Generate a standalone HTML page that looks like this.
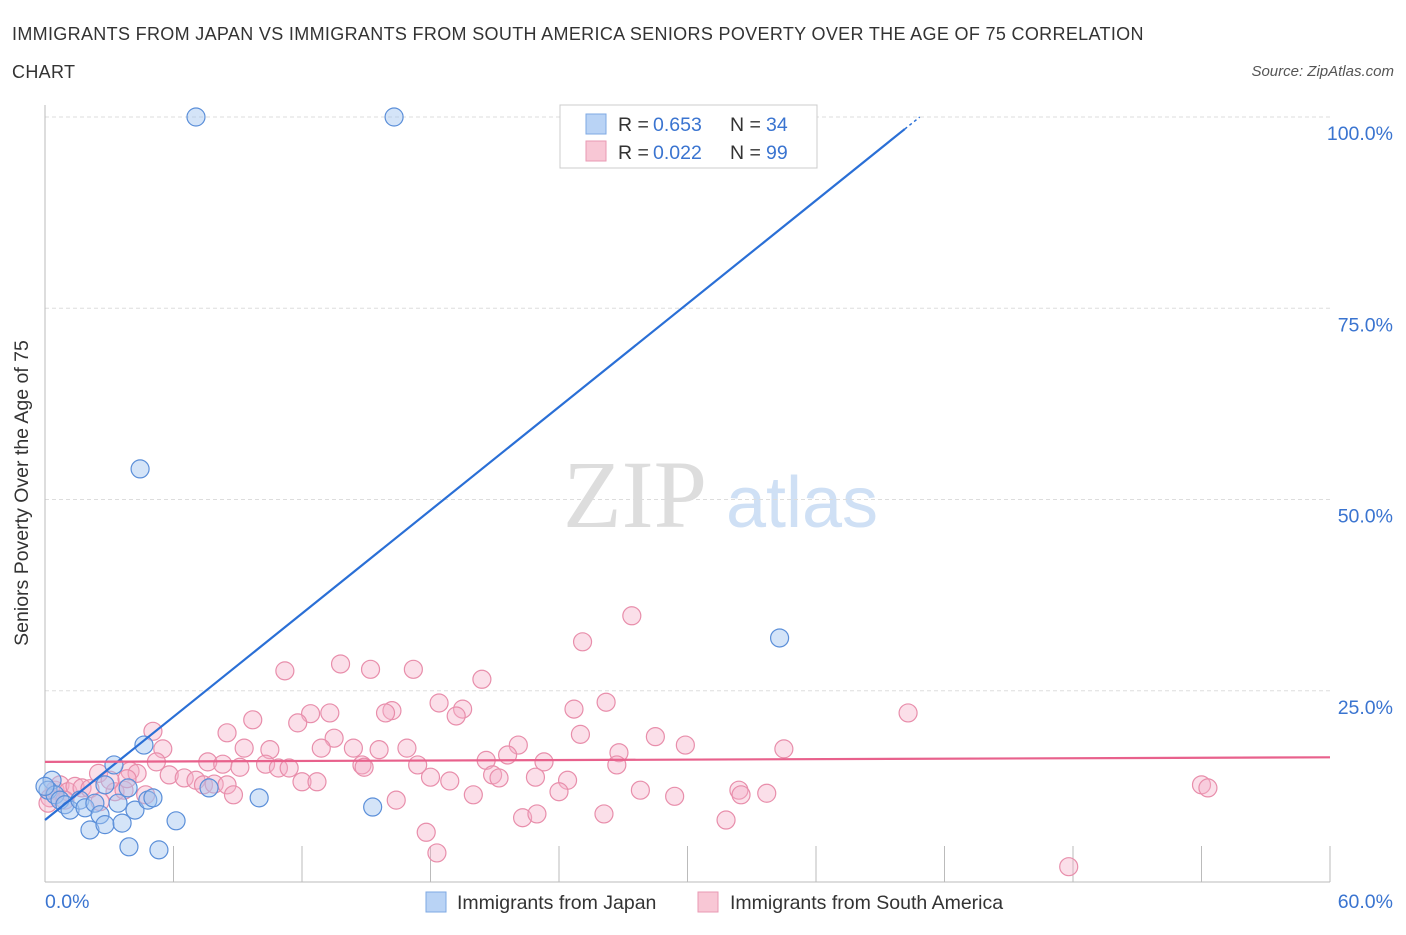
<!DOCTYPE html>
<html><head><meta charset="utf-8"><style>
body{margin:0;background:#fff;font-family:"Liberation Sans",sans-serif;}
</style></head><body>
<svg id="c" width="1406" height="930" xmlns="http://www.w3.org/2000/svg">
<text x="12" y="40" font-size="18" letter-spacing="0.33" fill="#333">IMMIGRANTS FROM JAPAN VS IMMIGRANTS FROM SOUTH AMERICA SENIORS POVERTY OVER THE AGE OF 75 CORRELATION</text>
<text x="12" y="78" font-size="18" letter-spacing="0.33" fill="#333">CHART</text>
<text x="1394" y="76" font-size="15" fill="#555" font-style="italic" text-anchor="end">Source: ZipAtlas.com</text>
<text x="635" y="527" font-size="96" fill="#ddd" font-family="Liberation Serif,serif" text-anchor="middle">ZIP</text>
<text x="802" y="527" font-size="72" fill="#cfe0f5" text-anchor="middle">atlas</text>
<g id="grid"></g>
<line x1="45" y1="105" x2="45" y2="882" stroke="#bbb"/>
<line x1="45" y1="882" x2="1330" y2="882" stroke="#bbb"/>
<g id="ticks"></g>
<text x="28" y="493" font-size="19.5" fill="#333" text-anchor="middle" transform="rotate(-90 28 493)">Seniors Poverty Over the Age of 75</text>
<text x="45" y="908" font-size="19.5" fill="#3a74d0">0.0%</text>
<text x="1393" y="908" font-size="19.5" fill="#3a74d0" text-anchor="end">60.0%</text>
<g id="pts"></g>
<g id="lines"></g>
<g>
<rect x="560" y="105" width="257" height="63" fill="#fff" stroke="#ccc"/>
<rect x="586" y="114" width="20" height="20" fill="#b9d3f5" stroke="#7ea8e3"/>
<text x="618" y="131" font-size="19.5" fill="#333">R =</text>
<text x="653" y="131" font-size="19.5" fill="#3a74d0">0.653</text>
<text x="730" y="131" font-size="19.5" fill="#333">N =</text>
<text x="766" y="131" font-size="19.5" fill="#3a74d0">34</text>
<rect x="586" y="141" width="20" height="20" fill="#f8c7d5" stroke="#e99ab3"/>
<text x="618" y="159" font-size="19.5" fill="#333">R =</text>
<text x="653" y="159" font-size="19.5" fill="#3a74d0">0.022</text>
<text x="730" y="159" font-size="19.5" fill="#333">N =</text>
<text x="766" y="159" font-size="19.5" fill="#3a74d0">99</text>
</g>
<g>
<rect x="426" y="892" width="20" height="20" fill="#b9d3f5" stroke="#7ea8e3"/>
<text x="457" y="909" font-size="19.5" fill="#333">Immigrants from Japan</text>
<rect x="698" y="892" width="20" height="20" fill="#f8c7d5" stroke="#e99ab3"/>
<text x="730" y="909" font-size="19.5" fill="#333">Immigrants from South America</text>
</g>
</svg>
<script>
const yTicks=[25,50,75,100];
const yTickLabels=["25.0%","50.0%","75.0%","100.0%"];
const xTicks=[6,12,18,24,30,36,42,48,54,60];
const japanX=[7.05,16.3,4.44,34.3,4.62,3.22,0.33,0.14,0.47,0.7,0.93,1.17,1.63,1.87,2.33,2.8,3.41,3.88,4.2,4.8,5.04,2.57,2.1,2.8,3.6,3.92,5.32,6.12,7.66,10.0,15.3,0.0,28.6,31.6];
const japanY=[100,100,54.0,31.9,17.9,15.3,13.3,12.0,11.4,10.7,10.1,9.4,10.7,9.7,10.3,12.7,10.3,12.3,9.4,10.7,11.0,8.8,6.8,7.5,7.7,4.6,4.2,8.0,12.3,11.0,9.8,12.5,100,100];
const saX=[27.4,25.1,11.2,13.8,15.2,17.2,20.4,26.2,40.3,18.4,19.5,19.2,24.7,16.2,15.9,13.3,12.4,11.8,9.7,8.5,5.04,13.5,25,28.5,29.9,34.5,22.1,26.8,5.5,9.3,10.5,12.9,14.4,15.6,16.9,7.6,8.3,9.1,10.3,10.9,11.4,14.8,14.9,17.4,20.6,21.6,23.3,26.7,5.2,3.97,2.5,4.3,5.8,6.5,7.05,7.4,7.9,8.5,12.0,12.7,18,18.9,20.9,21.2,22.9,24.4,8.8,4.7,20.0,24.0,27.8,29.4,32.4,32.5,33.7,54.0,54.3,16.4,26.1,22.3,22.97,31.8,17.8,18.3,47.8,0.23,0.47,0.7,1.07,1.4,1.73,2.1,3.27,3.69,3.04,0.14,0.93,2.57,3.83];
const saY=[34.8,31.4,27.6,28.5,27.8,27.8,26.5,23.5,22.1,23.4,22.6,21.7,22.6,22.4,22.1,22.1,22.0,20.8,21.2,19.5,19.7,18.8,19.3,19.0,17.9,17.4,17.9,16.9,17.4,17.5,17.3,17.5,17.5,17.3,17.5,15.7,15.4,15.0,15.4,14.9,14.9,15.3,15.0,15.3,15.9,16.6,15.7,15.3,15.7,14.5,14.2,14.2,14.0,13.6,13.3,12.7,12.8,12.7,13.1,13.1,13.7,13.2,14.0,13.6,13.7,13.3,11.4,11.4,11.4,11.8,12.0,11.2,12.0,11.4,11.6,12.7,12.3,10.7,8.9,8.4,8.9,8.1,6.5,3.8,2.0,11.0,12.0,12.7,11.8,12.5,12.3,12.2,11.8,12.0,13.3,10.3,10.7,10.5,13.5];
const japanFit=[8.1,2.25];
const saFit=[15.7,0.01];
const X=v=>45+v*(1285/60), Y=v=>882-v*7.65;
const NS="http://www.w3.org/2000/svg";
function mk(t,a,p){const e=document.createElementNS(NS,t);for(const k in a)e.setAttribute(k,a[k]);p.appendChild(e);return e;}
const grid=document.getElementById('grid'),ticks=document.getElementById('ticks');
yTicks.forEach((v,i)=>{
 const l=mk('line',{x1:45,x2:1330,y1:Y(v),y2:Y(v),stroke:'#ddd','stroke-dasharray':'4,3'},grid);
 
 
 const t=mk('text',{x:1393,y:Y(v)+23,'font-size':19.5,fill:'#3a74d0','text-anchor':'end'},ticks);
 t.textContent=yTickLabels[i];
 
 
});
xTicks.forEach(v=>{
 const l=mk('line',{x1:X(v),x2:X(v),y1:846,y2:882,stroke:'#bbb'},ticks);
 
 
});
const pts=document.getElementById('pts');
saX.forEach((x,i)=>{
 const c=mk('circle',{cx:X(x),cy:Y(saY[i]),r:9,fill:'rgba(246,176,199,0.4)',stroke:'#e88eab','stroke-width':1.2},pts);
 
 
});
japanX.forEach((x,i)=>{
 const c=mk('circle',{cx:X(x),cy:Y(japanY[i]),r:9,fill:'rgba(160,196,240,0.45)',stroke:'#5b8fd9','stroke-width':1.2},pts);
 
 
});
const lines=document.getElementById('lines');
const xe=(100-japanFit[0])/japanFit[1];
const bl=mk('line',{x1:X(0),y1:Y(japanFit[0]),x2:X(xe-0.7),y2:Y(japanFit[0]+japanFit[1]*(xe-0.7)),stroke:'#2a6fd6','stroke-width':2.2},lines);


const bd=mk('line',{x1:X(xe-0.7),y1:Y(japanFit[0]+japanFit[1]*(xe-0.7)),x2:X(xe),y2:Y(100),stroke:'#2a6fd6','stroke-width':1.5,'stroke-dasharray':'3,3'},lines);


const pl=mk('line',{x1:X(0),y1:Y(saFit[0]),x2:X(60),y2:Y(saFit[0]+saFit[1]*60),stroke:'#e8618c','stroke-width':2.2},lines);


</script>
</body></html>
